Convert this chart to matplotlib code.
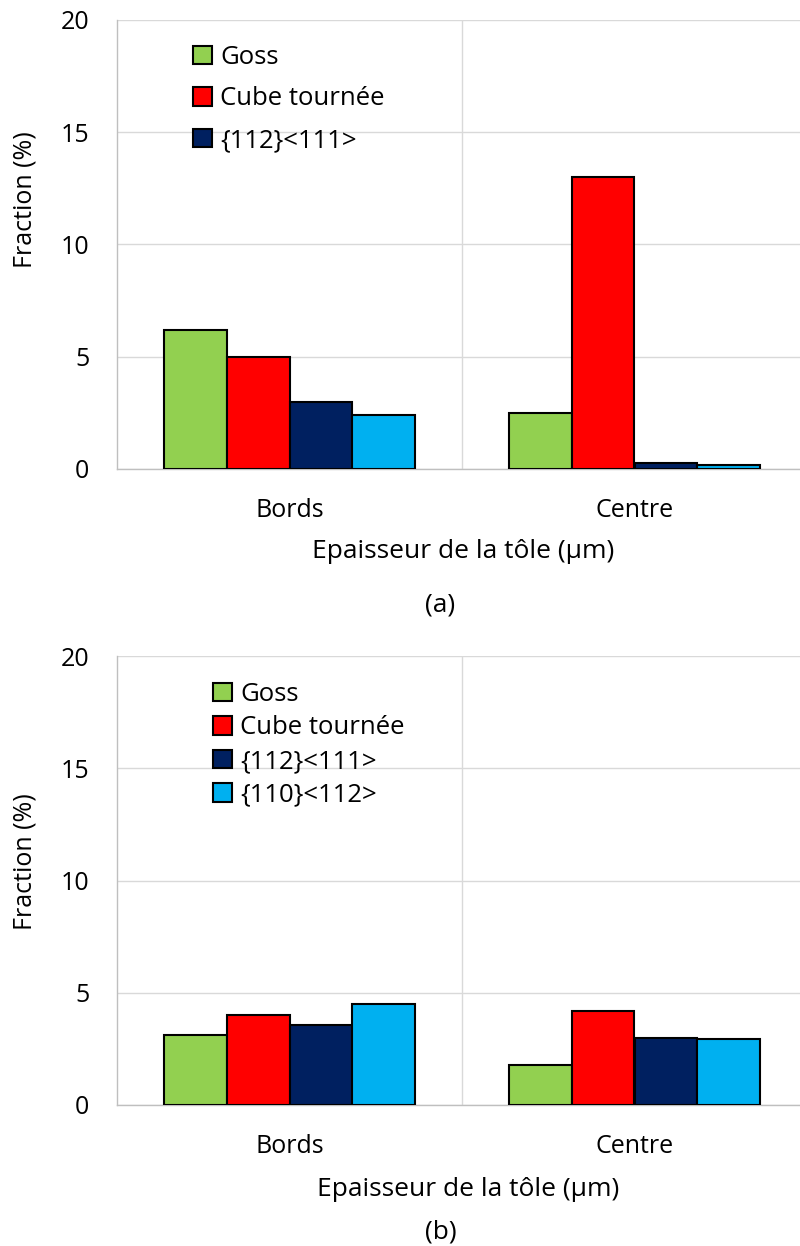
import matplotlib
matplotlib.use('Agg')
import matplotlib.pyplot as plt
from matplotlib.patches import Patch
import numpy as np

plt.rcParams['font.family'] = ['Open Sans', 'DejaVu Sans']

categories = ['Bords', 'Centre']
series = ['Goss', 'Cube tournée', '{112}<111>', '{110}<112>']
colors = ['#92D050', '#FF0000', '#002060', '#00B0F0']

# panel (a)
vals_a = {
    'Goss': [6.2, 2.5],
    'Cube tournée': [5.0, 13.0],
    '{112}<111>': [3.0, 0.25],
    '{110}<112>': [2.4, 0.18],
}
# panel (b)
vals_b = {
    'Goss': [3.1, 1.8],
    'Cube tournée': [4.0, 4.2],
    '{112}<111>': [3.55, 3.0],
    '{110}<112>': [4.5, 2.95],
}

W, H = 800, 1246
fig = plt.figure(figsize=(W / 100, H / 100), dpi=100)

fs = 18
grid_c = '#D9D9D9'


def draw(ax, vals, n_leg, leg_x, leg_top, leg_spacing):
    x = np.arange(len(categories))
    bw = 0.73 / len(series)
    for i, s in enumerate(series):
        off = (i - (len(series) - 1) / 2) * bw
        ax.bar(x + off, vals[s], width=bw, color=colors[i],
               edgecolor='black', linewidth=1.5, zorder=3)
    ax.set_xlim(-0.5, 1.5)
    ax.set_ylim(0, 20)
    ax.set_yticks([0, 5, 10, 15, 20])
    ax.set_xticks(x)
    ax.set_xticklabels(categories)
    ax.yaxis.grid(True, color=grid_c, linewidth=1, zorder=0)
    ax.axvline(0.5, color=grid_c, linewidth=1, zorder=0)
    for sp in ['top', 'right']:
        ax.spines[sp].set_visible(False)
    for sp in ['left', 'bottom']:
        ax.spines[sp].set_color('#BFBFBF')
        ax.spines[sp].set_linewidth(1)
    ax.tick_params(axis='y', length=0, pad=20, labelsize=fs, colors='black')
    ax.tick_params(axis='x', length=0, pad=21, labelsize=fs, colors='black')
    handles = [Patch(facecolor=colors[i], edgecolor='black', linewidth=1.5)
               for i in range(n_leg)]
    ax.legend(handles, series[:n_leg], loc='upper left',
              bbox_to_anchor=((leg_x - 117) / 690, leg_top), frameon=False,
              fontsize=18.5, handlelength=0.75, handleheight=0.75,
              handletextpad=0.3, borderpad=0, borderaxespad=0,
              labelspacing=leg_spacing)


ax1 = fig.add_axes([117 / W, 1 - 469 / H, 690 / W, 449 / H])
draw(ax1, vals_a, 3, 193, 1 - 25 / 449, 0.64)
ax2 = fig.add_axes([117 / W, 1 - 1105 / H, 690 / W, 449 / H])
draw(ax2, vals_b, 4, 213, 1 - 26 / 449, 0.33)

# axis titles and panel letters
fig.text(25 / W, 1 - 200 / H, 'Fraction (%)', fontsize=fs, rotation=90,
         ha='center', va='center')
fig.text(25 / W, 1 - 862 / H, 'Fraction (%)', fontsize=fs, rotation=90,
         ha='center', va='center')
fig.text(463 / W, 1 - 552 / H, 'Epaisseur de la tôle (µm)', fontsize=19,
         ha='center', va='center')
fig.text(440 / W, 1 - 605 / H, '(a)', fontsize=19, ha='center', va='center')
fig.text(468 / W, 1 - 1189 / H, 'Epaisseur de la tôle (µm)', fontsize=19,
         ha='center', va='center')
fig.text(441 / W, 1 - 1232 / H, '(b)', fontsize=19, ha='center', va='center')

fig.savefig('out.png', dpi=100)
